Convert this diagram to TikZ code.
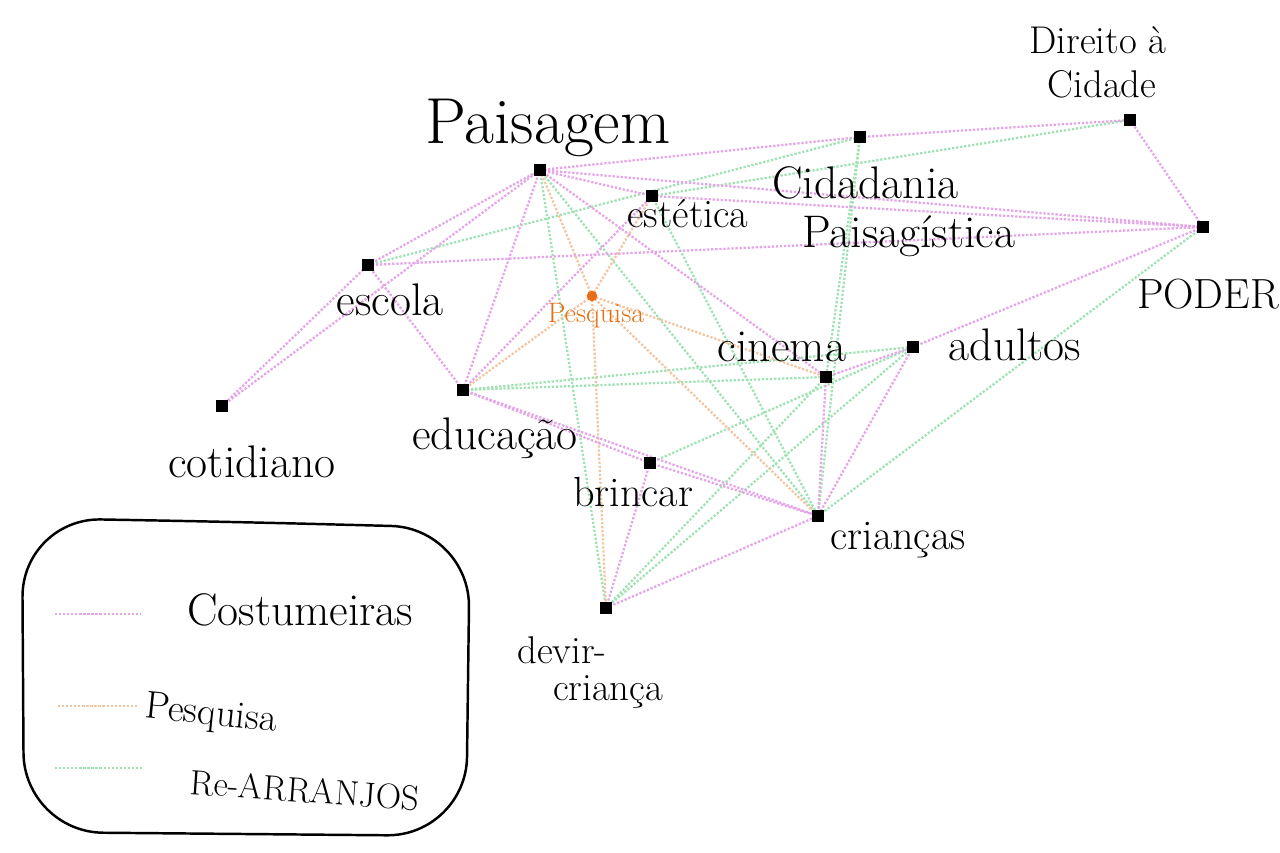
\documentclass[tikz,border=0pt]{standalone}
\usepackage{xcolor}
\definecolor{costume}{RGB}{230,165,232}
\definecolor{pesq}{RGB}{242,198,162}
\definecolor{rearr}{RGB}{160,226,180}
\definecolor{laranja}{RGB}{232,110,20}
\tikzset{
  every node/.style={
    text=black
  },
  ponto/.style={fill=black, inner sep=0pt, minimum size=7pt},
  rotulo/.style={font=\fontsize{26}{30}\selectfont, inner sep=1pt},
  ligcost/.style={costume, line width=1.3pt, densely dotted},
  ligpesq/.style={pesq, line width=1.3pt, densely dotted},
  ligrear/.style={rearr, line width=1.3pt, densely dotted}
}

\begin{document}
\begin{tikzpicture}[x=0.2mm, y=-0.2mm]
    \useasboundingbox (0,0) rectangle (1280,852);
    %\draw[gray, very thin] (0,0) grid[step=100] (1280,852);

    \coordinate (pais) at (540,170);
    \coordinate (este) at (652,196);
    \coordinate (cida) at (860,137);
    \coordinate (dire) at (1130,120);
    \coordinate (pode) at (1203,227);
    \coordinate (esco) at (368,265);
    \coordinate (pesq) at (592,296);
    \coordinate (cine) at (826,377);
    \coordinate (adul) at (913,347);
    \coordinate (coti) at (222,406);
    \coordinate (educ) at (463,390);
    \coordinate (brin) at (650,463);
    \coordinate (cria) at (818,516);
    \coordinate (devi) at (606,608);

    % re-arranjos
    \draw [ligrear] (pais) -- (devi);
    \draw [ligrear] (pais) -- (cria);
    \draw [ligrear] (esco) -- (cida);
    \draw [ligrear] (cida) -- (cine);
    \draw [ligrear] (cida) -- (cria);
    \draw [ligrear] (dire) -- (este);
    \draw [ligrear] (educ) -- (cine);
    \draw [ligrear] (este) -- (cria);
    \draw [ligrear] (devi) -- (cine);
    \draw [ligrear] (devi) -- (adul);
    \draw [ligrear] (brin) -- (adul);
    \draw [ligrear] (cria) -- (pode);
    \draw [ligrear] (educ) -- (adul);

    % pesquisa
    \draw [ligpesq] (pesq) -- (pais);
    \draw [ligpesq] (pesq) -- (este);
    \draw [ligpesq] (pesq) -- (educ);
    \draw [ligpesq] (pesq) -- (cine);
    \draw [ligpesq] (pesq) -- (devi);
    \draw [ligpesq] (pesq) -- (cria);

    % costumeiras
    \draw [ligcost] (coti) -- (esco);
    \draw [ligcost] (coti) -- (pais);
    \draw [ligcost] (esco) -- (pais);
    \draw [ligcost] (esco) -- (educ);
    \draw [ligcost] (esco) -- (pode);
    \draw [ligcost] (pais) -- (este);
    \draw [ligcost] (pais) -- (cida);
    \draw [ligcost] (pais) -- (pode);
    \draw [ligcost] (pais) -- (educ);
    \draw [ligcost] (pais) -- (cine);
    \draw [ligcost] (cida) -- (dire);
    \draw [ligcost] (dire) -- (pode);
    \draw [ligcost] (este) -- (pode);
    \draw [ligcost] (este) -- (educ);
    \draw [ligcost] (adul) -- (pode);
    \draw [ligcost] (cine) -- (adul);
    \draw [ligcost] (cine) -- (cria);
    \draw [ligcost] (adul) -- (cria);
    \draw [ligcost] (educ) -- (brin);
    \draw [ligcost] (brin) -- (cria);
    \draw [ligcost] (brin) -- (devi);
    \draw [ligcost] (devi) -- (cria);
    \draw [ligcost] (educ) -- (cria);

    \foreach \n in {pais,este,cida,dire,pode,esco,cine,adul,coti,educ,brin,cria,devi}
      \node [ponto] (p-\n) at (\n) {};
    \node [ponto, fill=laranja, circle, minimum size=6pt] (p-pesq) at (pesq) {};

    \node [rotulo, font=\fontsize{37}{40}\selectfont] (t-pais) at (548,128) {Paisagem};
    \node [rotulo, font=\fontsize{23}{26}\selectfont] (t-este) at (688,214) {estética};
    \node [rotulo, anchor=west] (t-cida) at (770,183) {Cidadania};
    \node [rotulo, anchor=west] (t-cpai) at (800,236) {Paisagística};
    \node [rotulo, font=\fontsize{22}{24}\selectfont] (t-dire) at (1098,40) {Direito à};
    \node [rotulo, font=\fontsize{22}{24}\selectfont] (t-dcid) at (1102,84) {Cidade};
    \node [rotulo, font=\fontsize{24}{26}\selectfont] (t-pode) at (1208,294) {PODER};
    \node [rotulo] (t-esco) at (390,300) {escola};
    \node [rotulo, text=laranja, font=\fontsize{16}{18}\selectfont] (t-pesq) at (596,316) {Pesquisa};
    \node [rotulo] (t-cine) at (782,347) {cinema};
    \node [rotulo] (t-adul) at (1015,345) {adultos};
    \node [rotulo] (t-coti) at (252,462) {cotidiano};
    \node [rotulo] (t-educ) at (495,438) {educação};
    \node [rotulo, font=\fontsize{24}{26}\selectfont] (t-brin) at (633,492) {brincar};
    \node [rotulo, font=\fontsize{24}{26}\selectfont] (t-cria) at (898,540) {crianças};
    \node [rotulo, font=\fontsize{22}{24}\selectfont] (t-devi) at (562,650) {devir-};
    \node [rotulo, font=\fontsize{22}{24}\selectfont] (t-dcri) at (608,692) {criança};

    % legenda
    \draw [line width=1.4pt, rounded corners=45pt] (22,518) -- (240,522) -- (470,528) -- (466,836) -- (24,832) -- cycle;
    \coordinate (lc1) at (55,614);
    \coordinate (lc2) at (140,614);
    \coordinate (lp1) at (58,706);
    \coordinate (lp2) at (138,706);
    \coordinate (lr1) at (55,768);
    \coordinate (lr2) at (142,768);
    \draw [ligcost] (lc1) -- (lc2);
    \draw [ligpesq] (lp1) -- (lp2);
    \draw [ligrear] (lr1) -- (lr2);
    \node [rotulo, anchor=west] (t-lcost) at (185,610) {Costumeiras};
    \node [rotulo, anchor=west, rotate=-6, font=\fontsize{22}{24}\selectfont] (t-lpesq) at (143,708) {Pesquisa};
    \node [rotulo, anchor=west, rotate=-4, font=\fontsize{20}{24}\selectfont] (t-lrear) at (188,782) {Re-ARRANJOS};
\end{tikzpicture}
\end{document}
